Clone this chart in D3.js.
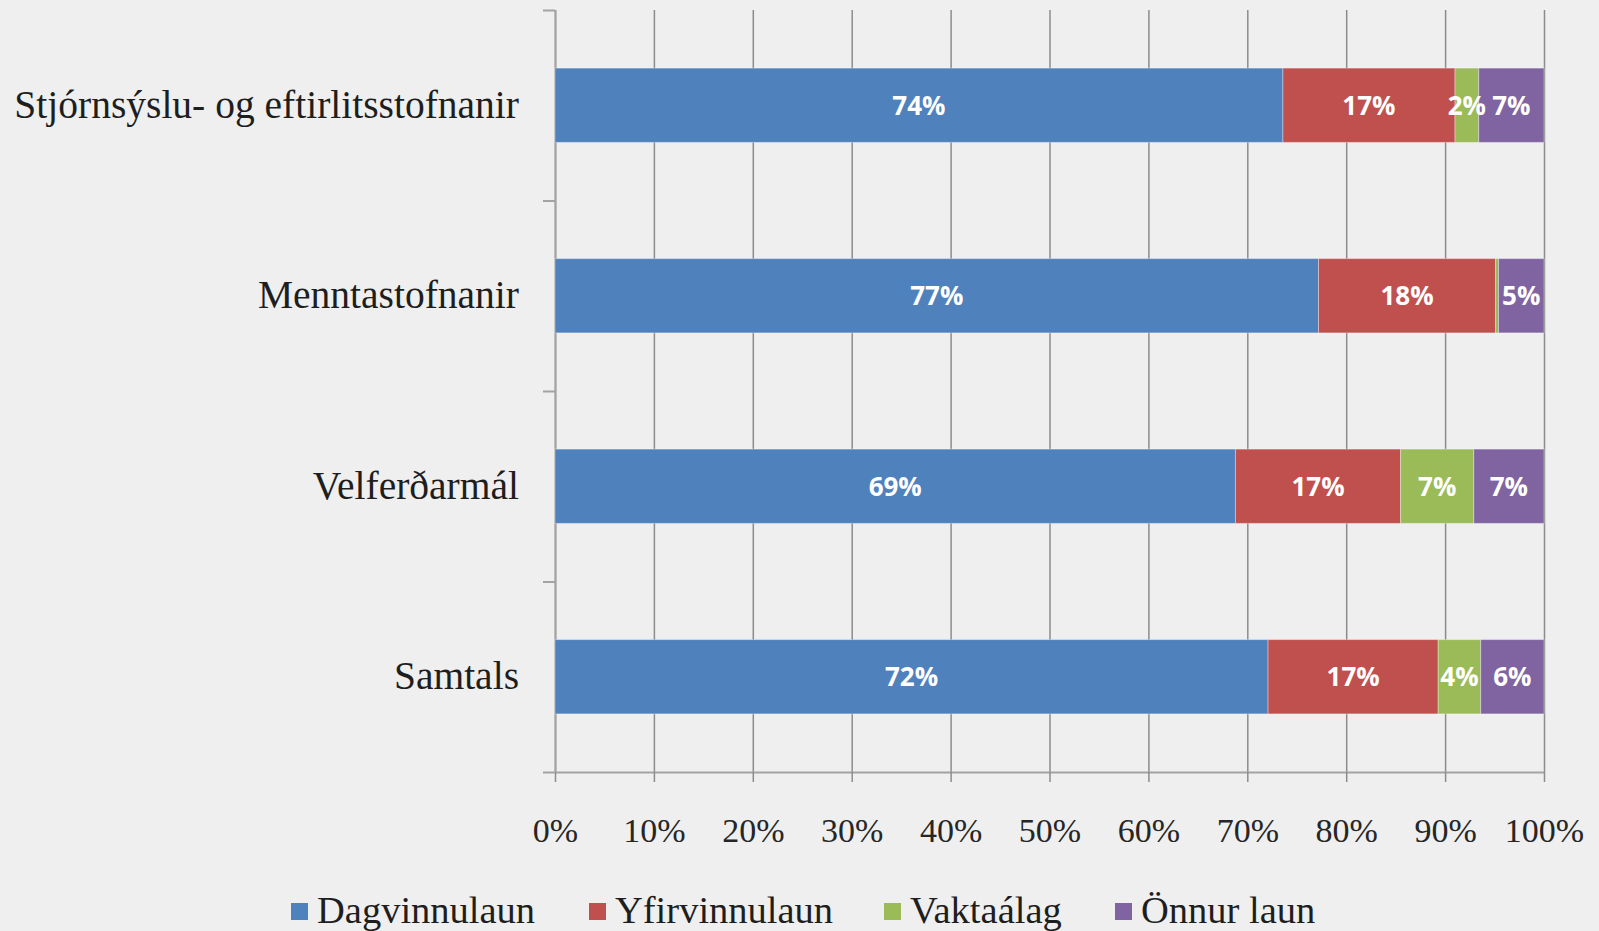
<!DOCTYPE html>
<html>
<head>
<meta charset="utf-8">
<script src="https://cdn.jsdelivr.net/npm/d3@7"></script>
<style>
  html, body { margin: 0; padding: 0; background: #efefef; }
  svg { display: block; }
</style>
</head>
<body>
<div id="chart"></div>
<script>
// categories top to bottom
const categories = ['Stjórnsýslu- og eftirlitsstofnanir', 'Menntastofnanir', 'Velferðarmál', 'Samtals'];
const seriesNames = ['Dagvinnulaun', 'Yfirvinnulaun', 'Vaktaálag', 'Önnur laun'];
const seriesColors = ['#4f81bd', '#c0504d', '#9bbb59', '#8064a2'];

// share (%) per category, in category order
const dagvinnulaun = [73.6, 77.2, 68.8, 72.1];
const yfirvinnulaun = [17.4, 17.9, 16.7, 17.2];
const vaktaalag = [2.4, 0.3, 7.4, 4.3];
const onnurLaun = [6.6, 4.6, 7.1, 6.4];

const xTicks = [0, 10, 20, 30, 40, 50, 60, 70, 80, 90, 100];

const serif = '"Liberation Serif", serif';
const width = 1599, height = 931;
const margin = {top: 10, right: 55, bottom: 159, left: 555};
const innerWidth = width - margin.left - margin.right;
const innerHeight = height - margin.top - margin.bottom;

const rows = categories.map((c, i) => ({
    category: c,
    'Dagvinnulaun': dagvinnulaun[i],
    'Yfirvinnulaun': yfirvinnulaun[i],
    'Vaktaálag': vaktaalag[i],
    'Önnur laun': onnurLaun[i]
}));

const stacked = d3.stack().keys(seriesNames)(rows);

const svg = d3.select('#chart').append('svg')
    .attr('width', width)
    .attr('height', height)
    .style('background', '#efefef');

const g = svg.append('g').attr('transform', `translate(${margin.left},${margin.top})`);

const x = d3.scaleLinear().domain([0, 100]).range([0, innerWidth]);
// bars sit in the middle of equal category bands
const y = d3.scaleBand().domain(categories).range([0, innerHeight])
    .paddingInner(0.61).paddingOuter(0.305);
const yEdges = d3.scaleLinear().domain([0, categories.length]).range([0, innerHeight]);

// vertical gridlines
g.append('g')
    .attr('transform', `translate(0,${innerHeight})`)
    .call(d3.axisBottom(x).tickValues(xTicks).tickSize(-innerHeight).tickFormat(''))
    .call(a => a.select('.domain').remove())
    .call(a => a.selectAll('text').remove())
    .call(a => a.selectAll('line').attr('stroke', '#8c8c8c').attr('stroke-width', 1.5));

// x axis with ticks below
g.append('g')
    .attr('transform', `translate(0,${innerHeight})`)
    .call(d3.axisBottom(x).tickValues(xTicks).tickSize(10).tickSizeOuter(0).tickPadding(36).tickFormat(d => d + '%'))
    .attr('font-family', serif)
    .attr('font-size', 34)
    .call(a => a.select('.domain').attr('stroke', '#a3a3a3').attr('stroke-width', 2))
    .call(a => a.selectAll('line').attr('stroke', '#8c8c8c').attr('stroke-width', 1.5))
    .call(a => a.selectAll('text').attr('fill', '#262626').attr('dy', '0.71em'));

// y axis line with category boundary ticks
g.append('g')
    .call(d3.axisLeft(yEdges).ticks(categories.length).tickSize(12).tickSizeOuter(0).tickFormat(''))
    .call(a => a.select('.domain').attr('stroke', '#a3a3a3').attr('stroke-width', 2))
    .call(a => a.selectAll('text').remove())
    .call(a => a.selectAll('line').attr('stroke', '#a3a3a3').attr('stroke-width', 2));

// category labels
g.append('g')
    .call(d3.axisLeft(y).tickSize(0).tickPadding(36))
    .attr('font-family', serif)
    .attr('font-size', 39.5)
    .call(a => a.select('.domain').remove())
    .call(a => a.selectAll('text').attr('fill', '#1e1e1e'));

// bars
const layers = g.selectAll('.layer')
    .data(stacked)
    .join('g')
    .attr('class', 'layer')
    .attr('fill', (d, i) => seriesColors[i]);

layers.selectAll('rect')
    .data(d => d)
    .join('rect')
    .attr('x', d => x(d[0]))
    .attr('y', d => y(d.data.category))
    .attr('width', d => x(d[1]) - x(d[0]))
    .attr('height', y.bandwidth())
    .attr('stroke', 'rgba(255,255,255,0.35)')
    .attr('stroke-width', 1);

// value labels
g.append('g')
    .attr('font-family', '"Open Sans", sans-serif')
    .attr('font-weight', 700)
    .attr('font-size', 26)
    .attr('fill', '#fff')
    .attr('text-anchor', 'middle')
    .selectAll('text')
    .data(stacked.flatMap(s => s.filter(p => p[1] - p[0] >= 1)))
    .join('text')
    .attr('x', d => x((d[0] + d[1]) / 2))
    .attr('y', d => y(d.data.category) + y.bandwidth() / 2)
    .attr('dy', '0.36em')
    .text(d => Math.round(d[1] - d[0]) + '%');

// legend
const legendX = [291, 589, 884, 1115];
const legend = svg.append('g').attr('transform', 'translate(0,912)');
const items = legend.selectAll('g')
    .data(seriesNames)
    .join('g')
    .attr('transform', (d, i) => `translate(${legendX[i]},0)`);
items.append('rect')
    .attr('x', 0).attr('y', -9)
    .attr('width', 17).attr('height', 17)
    .attr('fill', (d, i) => seriesColors[i]);
items.append('text')
    .attr('font-family', serif)
    .attr('font-size', 38.5)
    .attr('fill', '#1e1e1e')
    .attr('x', 26)
    .attr('y', 11)
    .text(d => d);
</script>
</body>
</html>
